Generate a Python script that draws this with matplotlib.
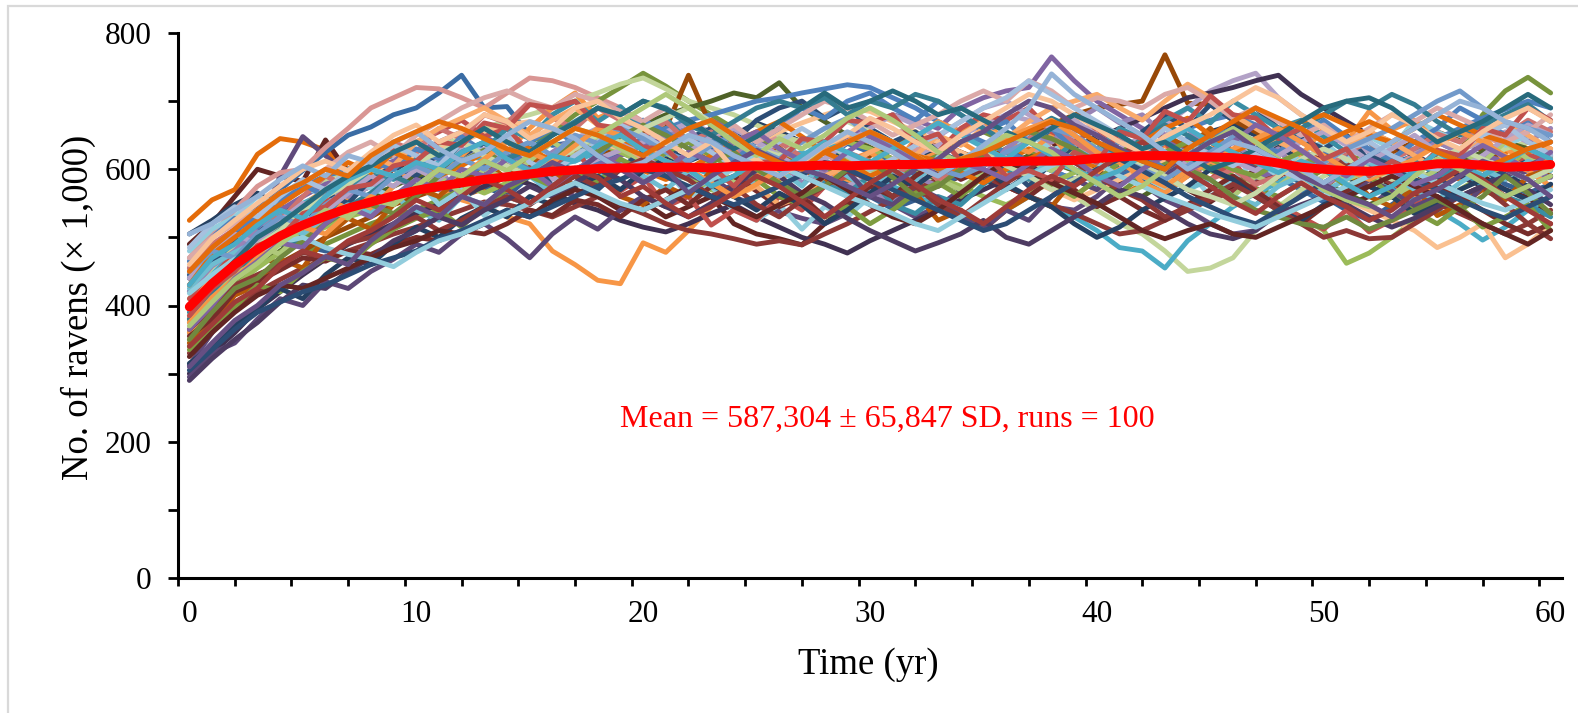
import numpy as np
import matplotlib
matplotlib.use("Agg")
import matplotlib.pyplot as plt
from matplotlib.patches import Rectangle

# ---------------- data ----------------
years = list(range(61))
x_tick_values = [0, 10, 20, 30, 40, 50, 60]
x_tick_labels = ["0", "10", "20", "30", "40", "50", "60"]
y_tick_values = [0, 200, 400, 600, 800]
y_tick_labels = ["0", "200", "400", "600", "800"]

run_01 = [525,555,570,622,645,640,628,600,612,590, 605,578,560,572,590,620,605,640,625,610, 598,585,600,620,612,590,575,560,585,600, 622,640,615,598,605,590,612,630,618,600, 585,560,578,600,625,640,615,598,580,592, 610,630,655,640,618,600,585,612,625,640, 630]
run_02 = [490,520,560,600,590,582,643,595,580,600, 612,590,570,585,560,548,575,590,560,540, 552,530,545,560,520,505,498,489,520,545, 560,585,600,575,590,612,598,620,640,615, 598,580,605,590,570,552,575,600,615,590, 572,548,560,585,600,620,605,590,570,558, 535]
run_03 = [312,360,420,510,590,648,620,592,585,588, 580,575,560,590,612,598,575,560,585,600, 620,605,590,575,560,545,538,528,520,535, 560,548,530,545,570,590,575,560,545,540, 560,590,578,555,540,520,505,510,540,565, 580,560,545,570,598,612,590,600,585,598, 612]
run_04 = [505,525,548,565,545,538,528,560,575,590, 585,600,612,625,608,590,605,620,640,655, 648,630,612,625,650,668,655,640,625,618, 600,612,630,618,598,585,570,592,610,628, 650,640,620,605,630,655,665,650,632,615, 600,588,575,560,580,602,620,608,592,575, 590]
run_05 = [445,488,495,492,490,488,480,478,470,492, 510,535,558,575,560,590,612,598,605,625, 610,590,572,560,578,600,620,612,595,580, 560,542,555,578,590,605,625,640,655,638, 620,600,585,570,590,610,628,615,598,580, 560,540,525,548,570,590,612,600,578,565, 578]
run_06 = [420,470,505,545,570,598,625,650,662,680, 690,712,738,690,692,650,635,640,620,635, 618,600,612,630,622,605,590,600,615,638, 625,610,592,580,600,615,628,612,598,585, 570,590,605,620,645,630,612,600,588,570, 552,575,590,608,620,640,625,612,598,585, 600]
run_07 = [470,505,540,575,595,600,632,660,690,705, 720,718,705,690,712,734,730,720,705,690, 670,655,640,625,610,630,650,640,622,605, 590,610,628,640,625,610,598,620,640,655, 665,648,630,615,600,585,605,622,640,628, 612,598,580,600,622,640,660,650,635,620, 640]
run_08 = [395,440,468,500,525,548,570,590,610,600, 585,570,555,545,530,520,480,460,437,432, 492,478,510,545,570,590,605,615,600,585, 570,590,610,625,640,620,605,590,575,560, 585,600,620,635,610,598,580,565,590,612, 630,615,600,580,560,578,595,615,630,612, 600]
run_09 = [340,385,420,445,460,478,490,505,520,532, 540,555,570,590,615,640,655,680,700,720, 741,722,700,680,660,645,630,612,600,588, 575,590,605,620,640,655,640,625,610,598, 580,565,590,610,625,605,590,572,560,580, 600,620,612,595,580,600,625,680,715,735, 712]
run_10 = [410,455,490,520,550,570,585,600,612,620, 628,635,645,660,672,680,690,700,712,725, 734,718,700,690,680,665,650,640,625,610, 598,585,575,590,605,620,612,598,580,560, 540,520,505,480,450,455,470,510,545,570, 590,605,620,612,598,585,600,615,630,640, 628]
run_11 = [380,425,455,470,462,480,500,515,530,548, 560,572,585,598,612,605,590,600,615,640, 655,660,738,662,640,625,612,600,590,605, 620,635,650,640,625,612,630,648,665,680, 690,695,700,768,697,695,672,655,640,625, 612,598,610,625,640,655,642,628,615,600, 590]
run_12 = [360,400,430,458,480,505,530,545,560,575, 590,600,612,625,640,620,605,618,632,650, 665,680,690,700,712,705,727,690,670,650, 632,615,600,585,570,590,605,620,612,598, 585,570,560,580,600,620,640,628,612,598, 580,565,548,560,575,592,610,625,640,630, 618]
run_13 = [455,480,510,530,555,575,590,600,612,620, 612,600,590,605,620,612,598,590,610,630, 645,660,672,680,690,700,705,712,718,724, 720,705,690,670,655,640,625,612,598,585, 600,615,630,645,660,672,680,665,650,640, 625,610,598,615,630,645,660,675,688,700, 690]
run_14 = [430,470,500,520,540,560,578,590,600,612, 625,640,655,648,630,615,600,590,605,620, 635,648,660,672,655,640,625,612,630,648, 665,680,672,660,690,705,715,720,765,730, 700,680,660,645,630,612,600,585,600,615, 630,618,605,590,575,590,605,620,612,600, 588]
run_15 = [400,445,480,510,532,550,565,580,590,600, 595,610,620,615,600,590,605,612,625,640, 630,618,605,592,580,598,615,625,612,600, 588,575,560,548,535,520,540,560,548,530, 510,485,480,455,495,520,545,565,580,600, 612,598,585,570,555,540,520,496,515,540, 560]
run_16 = [350,395,428,455,478,500,515,530,540,555, 570,585,578,565,580,598,612,628,640,625, 610,598,585,570,560,578,595,610,625,640, 630,615,600,588,575,560,548,565,580,595, 610,625,640,625,610,598,585,570,550,530, 510,462,477,500,525,548,570,590,605,620, 610]
run_17 = [385,430,465,495,520,545,560,575,590,605, 618,630,640,655,665,670,660,650,640,630, 618,605,598,612,625,640,655,668,680,690, 685,670,655,640,625,610,598,585,570,555, 570,585,600,615,628,640,625,612,598,585, 570,555,540,525,510,485,500,520,470,490, 520]
run_18 = [375,415,448,475,500,520,540,560,575,590, 605,618,630,620,608,595,585,600,615,628, 640,655,668,655,640,625,610,598,585,575, 590,605,620,635,650,665,680,672,660,645, 630,615,640,665,690,715,730,741,705,680, 660,640,625,610,598,612,628,640,655,640, 625]
run_19 = [300,330,360,395,420,445,468,490,505,520, 535,548,560,575,590,578,565,550,540,525, 515,508,520,535,548,530,515,500,490,477, 495,510,525,540,555,570,585,600,615,630, 645,660,675,690,705,712,720,730,738,710, 690,670,650,635,620,605,590,575,560,575, 590]
run_20 = [330,365,398,420,438,455,468,480,492,505, 515,528,540,552,548,540,530,545,560,548, 535,520,510,505,498,490,495,489,505,520, 538,555,570,585,600,590,575,560,548,535, 520,505,510,525,540,555,568,580,590,605, 620,608,595,580,565,550,535,520,505,520, 540]
run_21 = [480,512,530,560,548,575,560,590,572,560, 585,548,570,532,560,548,575,602,590,612, 585,600,560,575,540,525,548,512,545,530, 560,592,575,618,600,630,612,655,628,640, 610,625,590,572,600,560,585,612,590,625, 640,612,648,630,672,655,640,668,635,650, 618]
run_22 = [360,405,445,468,502,490,530,555,540,575, 600,585,620,640,625,660,690,712,675,690, 660,672,640,618,635,600,585,605,578,612, 625,600,645,670,655,672,640,625,650,612, 595,620,580,565,590,612,598,630,645,620, 660,640,685,658,672,640,628,650,612,598, 575]
run_23 = [410,440,478,500,525,512,555,585,600,628, 640,655,672,648,660,625,605,630,585,568, 590,545,560,518,540,525,560,540,575,590, 612,598,640,625,660,680,672,690,655,640, 660,625,612,640,598,585,612,570,548,530, 512,540,508,525,548,560,538,578,590,620, 615]
run_24 = [440,462,495,515,505,540,565,550,585,605, 590,625,610,640,600,618,575,592,570,600, 628,612,645,660,640,672,690,700,675,692, 660,640,655,625,612,590,605,575,610,628, 640,612,655,680,660,695,672,690,660,645, 630,650,612,600,578,590,560,575,598,612, 600]
run_25 = [345,372,415,430,468,455,500,528,512,548, 572,560,590,612,585,620,598,575,600,560, 548,575,560,598,585,612,632,600,585,560, 578,548,565,525,540,512,540,560,545,585, 600,628,612,650,632,660,625,605,630,590, 572,600,560,545,575,532,548,570,555,590, 600]
run_26 = [420,458,480,515,540,525,572,560,600,588, 572,600,560,590,612,598,625,648,630,660, 672,648,660,625,640,600,615,580,598,560, 572,548,590,575,612,590,630,655,640,670, 690,668,680,650,660,625,640,612,630,590, 575,598,612,590,620,640,625,655,670,640, 660]
run_27 = [390,428,470,488,512,545,530,572,598,585, 615,600,640,628,660,645,680,700,670,692, 660,675,640,650,618,630,600,612,578,565, 590,548,535,560,548,578,600,585,612,640, 628,660,645,672,690,668,700,680,660,672, 648,625,640,605,615,590,600,575,560,548, 530]
run_28 = [375,420,445,490,475,515,540,528,560,548, 575,590,565,600,585,612,640,620,648,630, 612,625,598,612,580,600,628,612,640,618, 600,590,612,585,570,598,580,612,598,625, 640,615,598,625,600,585,560,590,575,600, 612,585,598,560,578,600,625,610,640,615, 600]
run_29 = [455,490,512,540,525,560,590,575,612,640, 625,660,645,680,668,700,675,660,690,672, 648,670,640,655,625,612,640,618,600,625, 612,590,610,585,600,630,615,645,660,640, 620,645,612,590,605,585,600,578,590,615, 600,625,640,615,630,652,640,668,650,672, 655]
run_30 = [425,460,478,495,520,505,530,548,535,560, 540,525,560,548,575,590,565,600,585,612, 590,570,598,575,560,585,600,575,612,590, 570,598,585,610,590,625,605,590,612,600, 578,598,612,590,570,585,560,548,575,590, 568,585,610,592,570,555,580,600,585,612, 598]
run_31 = [295,330,345,380,410,400,435,425,450,468, 490,478,505,520,498,470,505,530,512,540, 560,545,570,588,565,600,612,590,575,598, 560,548,575,558,530,512,540,525,560,585, 570,598,612,590,620,640,625,600,615,590, 578,560,585,568,545,560,538,575,590,605, 620]
run_32 = [355,380,420,435,452,470,465,480,475,490, 500,495,510,505,520,540,532,555,548,530, 555,570,548,575,590,568,545,560,530,548, 575,560,590,612,585,600,575,560,585,570, 545,560,540,525,548,570,590,568,545,520, 545,568,590,612,595,575,560,540,520,505, 520]
run_33 = [465,500,528,515,550,578,560,595,612,600, 630,615,648,625,605,640,660,638,620,650, 672,655,630,648,612,640,660,690,675,700, 712,690,672,700,680,655,670,640,660,630, 612,640,625,600,620,645,660,640,625,650, 672,648,630,615,640,660,690,672,650,668, 640]
run_34 = [400,440,470,498,520,545,570,598,620,605, 640,660,675,690,670,650,672,690,665,640, 615,630,600,580,560,575,548,560,590,605, 625,640,620,650,635,660,645,670,690,700, 710,690,672,700,725,705,680,660,640,625, 610,630,655,640,620,600,625,648,670,650, 630]
run_35 = [335,370,398,430,420,450,470,462,490,512, 528,540,515,548,570,590,575,600,580,615, 598,625,640,620,600,585,560,548,530,545, 520,540,565,580,560,590,612,600,578,560, 585,610,598,625,640,615,600,590,610,625, 600,575,590,560,538,520,545,515,530,548, 510]
run_36 = [440,478,505,490,525,550,538,565,590,575, 600,585,612,630,610,595,620,645,660,640, 618,600,625,648,660,640,620,600,615,640, 660,680,665,648,670,690,700,680,660,672, 650,630,648,625,605,630,612,598,620,640, 655,635,612,630,650,625,600,620,645,665, 650]
run_37 = [315,340,372,395,425,410,445,470,460,490, 515,500,528,545,530,560,548,575,590,570, 598,615,600,578,560,540,565,548,520,540, 565,590,575,600,620,600,578,560,545,520, 500,515,540,558,575,600,585,560,540,525, 548,560,575,560,535,548,570,585,570,555, 578]
run_38 = [470,500,520,540,565,580,600,625,640,620, 650,670,690,705,715,700,690,710,700,685, 670,690,672,650,665,640,660,680,700,690, 670,650,665,680,700,715,700,730,715,690, 705,700,690,710,720,700,675,690,670,650, 665,640,660,680,670,690,675,660,640,655, 680]
run_39 = [380,420,455,470,500,490,520,545,565,590, 575,600,625,640,615,630,650,670,690,680, 700,690,665,650,670,690,700,690,705,680, 700,690,710,700,680,660,640,655,675,660, 640,620,645,665,650,630,610,625,640,660, 680,700,690,710,695,670,650,665,680,695, 670]
run_40 = [430,475,500,525,548,570,590,610,595,625, 610,590,605,625,640,630,612,640,655,645, 630,612,598,620,640,655,670,648,625,610, 590,605,620,612,595,580,600,615,630,612, 605,620,640,660,675,650,625,640,655,670, 680,665,650,640,660,680,665,650,640,625, 640]
run_41 = [365,395,430,445,460,478,470,492,500,515, 530,510,525,545,560,548,570,590,575,600, 615,600,585,560,575,548,530,555,575,598, 585,560,575,548,530,555,580,600,625,610, 590,570,555,530,545,560,578,560,540,520, 500,510,498,500,520,540,560,575,548,520, 498]
run_42 = [485,520,545,530,560,585,570,598,612,635, 620,605,640,625,650,610,595,620,640,665, 650,630,645,625,605,625,640,660,640,620, 600,615,635,650,670,690,705,730,710,690, 670,650,630,660,640,620,605,625,600,585, 610,630,640,620,605,600,630,650,665,640, 620]
run_43 = [290,322,350,375,405,430,425,450,470,495, 510,530,518,540,555,575,560,580,600,585, 560,545,530,550,575,600,590,565,550,528, 510,495,480,492,505,525,500,490,510,530, 548,570,560,540,520,505,498,510,535,548, 560,548,530,515,528,545,560,575,590,570, 548]
run_44 = [350,390,425,440,470,495,520,540,548,535, 560,590,612,628,605,590,612,640,625,648, 665,650,630,610,625,600,580,560,575,600, 612,588,560,575,600,620,640,655,645,630, 610,625,640,620,600,585,560,540,530,520, 515,530,512,525,540,555,540,560,590,565, 535]
run_45 = [395,430,460,488,510,538,560,578,600,590, 610,625,640,620,605,590,612,630,650,640, 660,675,690,670,650,630,620,640,660,670, 655,640,620,600,615,630,605,590,570,585, 600,620,605,590,570,560,548,565,590,615, 630,615,600,585,600,615,630,615,600,585, 600]
run_46 = [450,480,470,505,530,518,548,570,560,590, 605,590,615,600,625,640,620,650,638,660, 645,625,612,635,650,630,615,640,660,675, 650,635,612,600,590,605,625,640,660,650, 630,615,600,585,605,625,648,630,612,598, 610,630,645,660,680,700,715,690,670,660, 650]
run_47 = [325,360,390,415,430,425,440,455,470,485, 495,510,505,520,540,530,555,570,560,548, 540,555,575,560,545,530,548,565,590,570, 548,530,520,540,565,590,612,598,580,565, 550,530,510,498,510,520,505,500,515,530, 545,560,575,590,575,560,540,520,505,490, 510]
run_48 = [375,412,440,470,495,515,505,535,560,548, 575,600,590,615,640,625,610,635,660,650, 630,612,600,580,560,578,600,615,630,650, 640,625,605,590,610,630,645,660,672,650, 625,610,590,575,598,615,630,645,660,640, 620,600,585,600,615,635,655,640,620,600, 615]
run_49 = [305,335,365,390,405,420,430,445,460,470, 480,498,510,525,540,530,545,560,575,585, 600,590,575,560,548,560,575,592,610,600, 585,570,555,540,525,510,520,540,560,580, 600,615,598,580,560,545,530,520,540,560, 580,600,620,605,585,570,555,540,528,545, 560]
run_50 = [418,445,468,480,492,500,485,475,468,457, 478,495,505,520,535,550,565,580,565,550, 540,555,570,585,600,620,605,590,575,560, 548,535,520,510,530,550,570,590,605,620, 610,590,575,560,548,535,525,515,530,545, 560,575,590,605,595,580,565,550,540,555, 570]
run_51 = [385,425,450,488,500,535,545,572,578,605, 612,640,635,668,660,695,690,700,665,660, 632,630,600,605,575,610,612,645,640,672, 668,680,640,652,612,625,590,598,585,625, 610,655,645,685,670,708,680,675,645,660, 615,630,590,612,595,628,620,660,650,690, 672]
run_52 = [365,400,440,465,492,485,520,545,530,560, 585,570,600,590,615,600,575,598,620,605, 580,600,625,612,640,655,630,612,600,625, 648,630,612,590,610,600,585,608,630,615, 590,575,600,620,598,615,640,665,650,628, 605,590,615,600,578,590,615,635,618,600, 625]
run_53 = [430,470,490,518,540,528,560,585,600,590, 610,600,625,640,615,598,620,612,635,650, 628,612,600,575,590,612,598,620,640,625, 610,630,648,668,650,632,615,640,620,600, 585,598,620,640,660,640,625,610,595,612, 600,578,560,575,598,625,605,590,610,630, 615]
run_54 = [340,372,405,425,458,480,470,495,510,530, 555,540,560,585,570,550,575,600,588,560, 575,550,530,545,565,590,575,552,530,555, 580,600,578,555,540,520,545,570,590,575, 598,620,640,618,595,575,552,535,560,580, 560,545,525,540,565,580,600,585,560,540, 520]
run_55 = [460,498,525,550,575,600,612,598,625,650, 665,640,655,680,670,645,660,690,700,675, 660,640,620,640,600,615,590,610,635,650, 675,660,640,625,650,670,690,710,700,680, 660,640,625,648,665,680,700,720,705,680, 660,640,655,680,665,645,630,655,675,690, 670]
run_56 = [400,430,465,500,520,545,570,590,605,625, 640,620,640,660,640,625,650,668,690,680, 700,688,672,650,630,648,670,690,712,690, 700,715,700,680,690,672,655,640,660,680, 665,650,630,640,620,600,612,630,650,670, 690,700,705,690,665,640,655,670,690,710, 690]
run_57 = [370,405,438,462,490,515,540,530,555,548, 575,600,590,612,598,620,640,660,650,670, 690,710,690,665,640,620,645,630,650,675, 690,672,650,625,610,630,650,640,625,600, 580,560,575,600,620,640,660,640,615,595, 570,555,545,560,590,615,600,580,560,575, 590]
run_58 = [310,345,378,400,430,448,472,460,495,520, 545,530,560,548,575,590,610,595,620,600, 580,600,565,590,610,628,612,600,590,575, 560,578,600,615,640,655,680,700,690,665, 650,630,612,600,620,640,655,630,612,590, 575,560,548,530,555,570,590,612,600,585, 560]
run_59 = [505,520,540,560,585,605,590,620,610,640, 655,630,612,625,650,670,660,645,620,600, 610,630,650,640,620,605,590,612,635,655, 640,625,605,590,612,635,660,690,740,710, 690,670,650,625,600,620,640,630,612,600, 580,600,620,640,660,680,700,690,670,660, 640]
run_60 = [450,485,512,540,565,580,600,590,620,640, 655,670,660,645,630,620,640,660,650,635, 620,640,660,672,650,625,610,600,625,640, 655,640,620,600,615,625,640,655,670,660, 640,625,612,600,630,650,670,690,675,660, 640,655,670,655,640,625,612,600,615,630, 640]

mean_run = [398,432,460,482,502,518,531,543,552,561, 569,575,580,585,589,593,597,599,601,602, 602,603,603,602,604,605,604,605,606,605, 606,607,607,608,609,611,611,612,612,613, 616,618,620,620,619,618,617,614,609,603, 600,598,597,600,604,608,608,606,603,604, 607]

annotation = "Mean = 587,304 \u00b1 65,847 SD, runs = 100"

# ---------------- style ----------------
run_colors = [
    "#E46C0A", "#632523", "#604A7B", "#254061", "#376092", "#3A6CA4", "#D99694", "#F79646",
    "#77933C", "#C3D69B", "#984807", "#4F6228", "#4F81BD", "#8064A2", "#4BACC6", "#9BBB59",
    "#FAC090", "#B3A2C7", "#403152", "#8C3836", "#93CDDD", "#F79646", "#C0504D", "#2C4D75",
    "#B65708", "#9983B5", "#3A8DA4", "#AFC97A", "#CD7371", "#6FBDD1", "#5C4776", "#772C2A",
    "#4F81BD", "#F9AA6B", "#7E9C40", "#B3A2C7", "#254061", "#DBA9A8", "#357D91", "#E46C0A",
    "#8C3836", "#A7C0DE", "#4D3B62", "#71893F", "#C7D9A8", "#729ACA", "#632523", "#F79646",
    "#2C4D75", "#93CDDD", "#C0504D", "#8064A2", "#4BACC6", "#9F3B38", "#F9C39A", "#276A7C",
    "#AFC97A", "#664F83", "#95B3D7", "#E46C0A",
]

plt.rcParams["font.family"] = ["Liberation Serif", "DejaVu Serif"]

W, H = 1578, 713
fig = plt.figure(figsize=(W / 100, H / 100), dpi=100)
fig.patch.set_facecolor("white")

# light grey frame (only top/left edges are visible in the reference)
fig.patches.append(Rectangle((8 / W, -0.2), 1.3, 1.2 - 6 / H, transform=fig.transFigure,
                             fill=False, edgecolor="#D9D9D9", linewidth=1.6, zorder=0))

ax = fig.add_axes([178 / W, 1 - 578 / H, (1562 - 178) / W, (578 - 33) / H])

runs = [run_01, run_02, run_03, run_04, run_05, run_06, run_07, run_08, run_09, run_10,
        run_11, run_12, run_13, run_14, run_15, run_16, run_17, run_18, run_19, run_20,
        run_21, run_22, run_23, run_24, run_25, run_26, run_27, run_28, run_29, run_30,
        run_31, run_32, run_33, run_34, run_35, run_36, run_37, run_38, run_39, run_40,
        run_41, run_42, run_43, run_44, run_45, run_46, run_47, run_48, run_49, run_50,
        run_51, run_52, run_53, run_54, run_55, run_56, run_57, run_58, run_59, run_60]

for i, r in enumerate(runs):
    ax.plot(years[:len(r)], r, color=run_colors[i % len(run_colors)], lw=3.5,
            solid_joinstyle="round", solid_capstyle="round", zorder=2)

ax.plot(years[:len(mean_run)], mean_run, color="#FF0000", lw=6.5,
        solid_joinstyle="round", solid_capstyle="round", zorder=5)

ax.set_xlim(-0.5, 60.5)
ax.set_ylim(0, 800)

for s in ["top", "right"]:
    ax.spines[s].set_visible(False)
for s in ["left", "bottom"]:
    ax.spines[s].set_linewidth(2.2)
    ax.spines[s].set_color("black")

ax.set_xticks(x_tick_values)
ax.set_xticklabels(x_tick_labels)
ax.set_xticks(np.arange(-0.5, 61, 2.5), minor=True)
ax.set_yticks(y_tick_values)
ax.set_yticklabels(y_tick_labels)
ax.set_yticks(np.arange(0, 801, 100), minor=True)

ax.tick_params(axis="x", which="major", length=0, pad=16, labelsize=22.5)
ax.tick_params(axis="x", which="minor", length=5.8, width=2.0, direction="out")
ax.tick_params(axis="y", which="both", length=7.2, width=2.0, direction="out")
ax.tick_params(axis="y", which="major", pad=12, labelsize=22.5)

fig.text(78 / W, 1 - 307 / H, "No. of ravens (\u00d7 1,000)", rotation=90,
         ha="center", va="center", fontsize=26.5)
fig.text(868 / W, 1 - 665 / H, "Time (yr)", ha="center", va="center", fontsize=26.5)
fig.text(887 / W, 1 - 419 / H, annotation, ha="center", va="center",
         fontsize=23, color="#FF0000")

fig.savefig("out.png", dpi=100, facecolor="white")
